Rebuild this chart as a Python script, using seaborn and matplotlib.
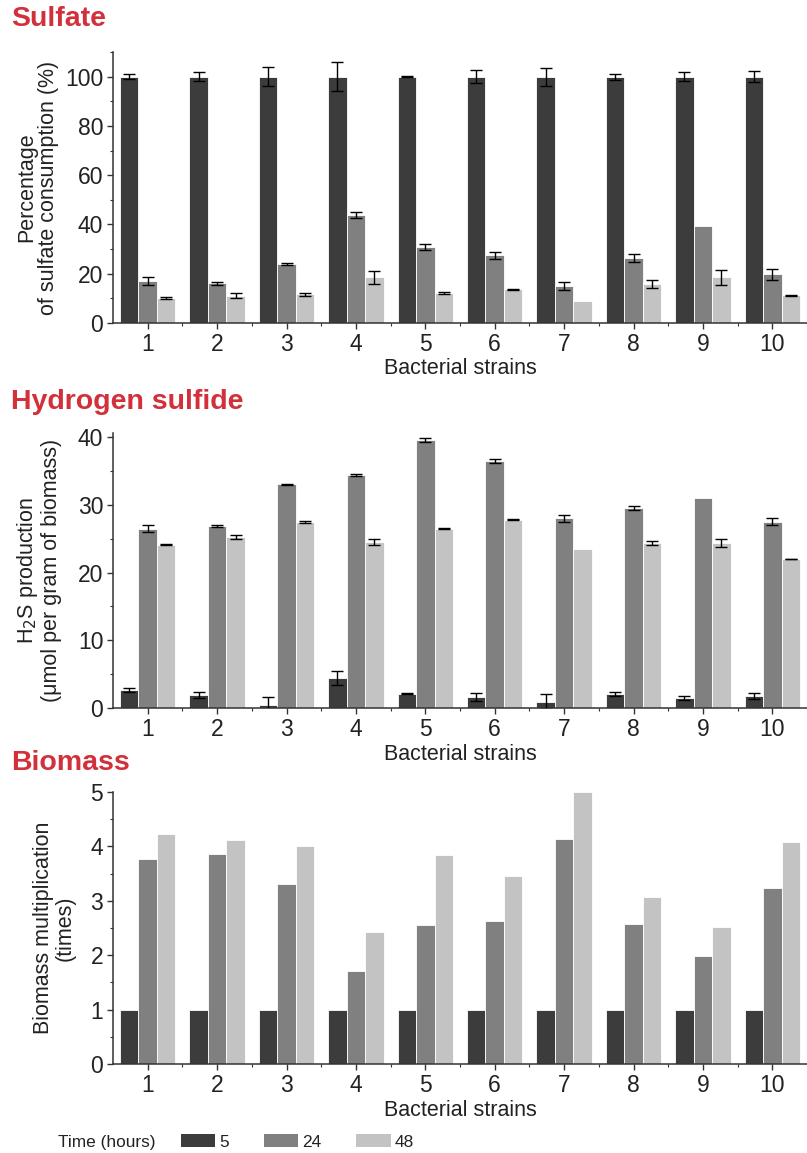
import numpy as np
import pandas as pd
import matplotlib
matplotlib.use("Agg")
import matplotlib.pyplot as plt
import seaborn as sns
from matplotlib.ticker import MultipleLocator
from matplotlib.patches import Patch

# ---------------- data ----------------
strains = ["1", "2", "3", "4", "5", "6", "7", "8", "9", "10"]
times = ["5", "24", "48"]

sulfate_5 = [100, 100, 100, 100, 100, 100, 100, 100, 100, 100]
sulfate_24 = [17.0, 16.2, 23.9, 43.8, 30.8, 27.5, 15.0, 26.5, 39.4, 19.7]
sulfate_48 = [10.2, 11.1, 11.6, 18.6, 12.0, 13.7, 8.9, 15.8, 18.5, 11.2]
sulfate_5_err = [1.0, 1.7, 4.0, 6.0, 0.3, 2.5, 3.6, 1.2, 1.7, 2.2]
sulfate_24_err = [1.7, 0.6, 0.3, 1.2, 1.2, 1.5, 1.6, 1.6, np.nan, 2.1]
sulfate_48_err = [0.3, 1.1, 0.7, 2.6, 0.4, 0.3, np.nan, 1.5, 3.1, 0.3]

h2s_5 = [2.7, 1.9, 0.4, 4.4, 2.1, 1.6, 0.95, 2.0, 1.5, 1.8]
h2s_24 = [26.5, 26.9, 33.0, 34.4, 39.5, 36.5, 28.0, 29.5, 31.0, 27.5]
h2s_48 = [24.1, 25.2, 27.5, 24.5, 26.5, 27.8, 23.5, 24.4, 24.4, 22.0]
h2s_5_err = [0.3, 0.4, 1.2, 1.0, 0.1, 0.6, 1.1, 0.3, 0.3, 0.45]
h2s_24_err = [0.45, 0.15, 0.1, 0.2, 0.3, 0.3, 0.5, 0.3, np.nan, 0.5]
h2s_48_err = [0.1, 0.3, 0.15, 0.4, 0.1, 0.05, np.nan, 0.3, 0.6, 0.05]

biomass_5 = [1, 1, 1, 1, 1, 1, 1, 1, 1, 1]
biomass_24 = [3.77, 3.86, 3.31, 1.71, 2.55, 2.62, 4.14, 2.58, 1.99, 3.24]
biomass_48 = [4.23, 4.12, 4.00, 2.42, 3.85, 3.46, 5.00, 3.07, 2.52, 4.08]

palette = {"5": "#3c3c3c", "24": "#808080", "48": "#c3c3c3"}
red = "#d2303b"

sns.set_theme(style="ticks")
plt.rcParams["font.family"] = ["Liberation Sans", "DejaVu Sans"]
plt.rcParams["axes.linewidth"] = 1.1
plt.rcParams["axes.edgecolor"] = "#333333"


def long_df(v5, v24, v48):
    rows = []
    for t, vals in zip(times, [v5, v24, v48]):
        for s, v in zip(strains, vals):
            rows.append({"strain": s, "time": t, "value": v})
    return pd.DataFrame(rows)


W, H = 807, 1153
fig = plt.figure(figsize=(W / 100, H / 100), dpi=100)


def make_ax(top_px, bottom_px):
    left = 113 / W
    width = (W - 113) / W
    bottom = 1 - bottom_px / H
    height = (bottom_px - top_px) / H
    return fig.add_axes([left, bottom, width, height])


def draw(ax, df, errs, ylim, major, minor, ylabel, lab_x):
    sns.barplot(data=df, x="strain", y="value", hue="time", hue_order=times,
                order=strains, palette=palette, errorbar=None, width=0.8,
                edgecolor="white", linewidth=0.6, saturation=1, ax=ax, legend=False)
    if errs is not None:
        for cont, vals, err in zip(ax.containers, errs[0], errs[1]):
            xs = [b.get_x() + b.get_width() / 2 for b in cont]
            ax.errorbar(xs, vals, yerr=err, fmt="none", ecolor="black",
                        elinewidth=1.0, capsize=4, capthick=1.0, zorder=5)
    ax.set_xlim(-0.5, 9.5)
    ax.set_ylim(*ylim)
    ax.yaxis.set_major_locator(MultipleLocator(major))
    ax.yaxis.set_minor_locator(MultipleLocator(minor))
    ax.set_xticks(np.arange(0.5, 9.5, 1.0), minor=True)
    sns.despine(ax=ax)
    ax.tick_params(axis="both", which="major", direction="out", length=4,
                   width=1.0, color="#333333", labelsize=16.5, pad=3,
                   labelcolor="#222222")
    ax.tick_params(axis="both", which="minor", direction="out", length=2.5,
                   width=0.8, color="#333333")
    ax.set_xlabel("Bacterial strains", fontsize=15.5, color="#222222", labelpad=2)
    ax.set_ylabel(ylabel, fontsize=15.5, color="#222222", linespacing=1.05)
    ax.yaxis.set_label_coords(lab_x, 0.5)


ax1 = make_ax(52, 323)
draw(ax1, long_df(sulfate_5, sulfate_24, sulfate_48),
     ([sulfate_5, sulfate_24, sulfate_48], [sulfate_5_err, sulfate_24_err, sulfate_48_err]),
     (0, 110), 20, 10, "Percentage\nof sulfate consumption (%)", -0.078)

ax2 = make_ax(433, 708)
draw(ax2, long_df(h2s_5, h2s_24, h2s_48),
     ([h2s_5, h2s_24, h2s_48], [h2s_5_err, h2s_24_err, h2s_48_err]),
     (0, 40.6), 10, 5, "H$_2$S production\n(μmol per gram of biomass)", -0.074)

ax3 = make_ax(792, 1064)
draw(ax3, long_df(biomass_5, biomass_24, biomass_48), None,
     (0, 5), 1, 0.5, "Biomass multiplication\n(times)", -0.054)

title_kw = dict(fontsize=20.5, fontweight="bold", color=red, va="center", ha="left")
fig.text(11 / W, 1 - 19 / H, "Sulfate", **title_kw)
fig.text(11 / W, 1 - 402 / H, "Hydrogen sulfide", **title_kw)
fig.text(11 / W, 1 - 763 / H, "Biomass", **title_kw)

# legend
fig.text(58 / W, 1 - 1142 / H, "Time (hours)", fontsize=12.4, va="center", ha="left",
         color="#222222")
handles = [Patch(facecolor=palette[t], edgecolor="none") for t in times]
fig.legend(handles, times, ncol=3, loc="center left",
           bbox_to_anchor=(181 / W, 1 - 1142 / H), frameon=False, fontsize=12.4,
           handlelength=2.0, handleheight=0.75, columnspacing=2.0, handletextpad=0.25,
           borderaxespad=0, borderpad=0, labelcolor="#222222")

fig.savefig("out.png", dpi=100, facecolor="white")
